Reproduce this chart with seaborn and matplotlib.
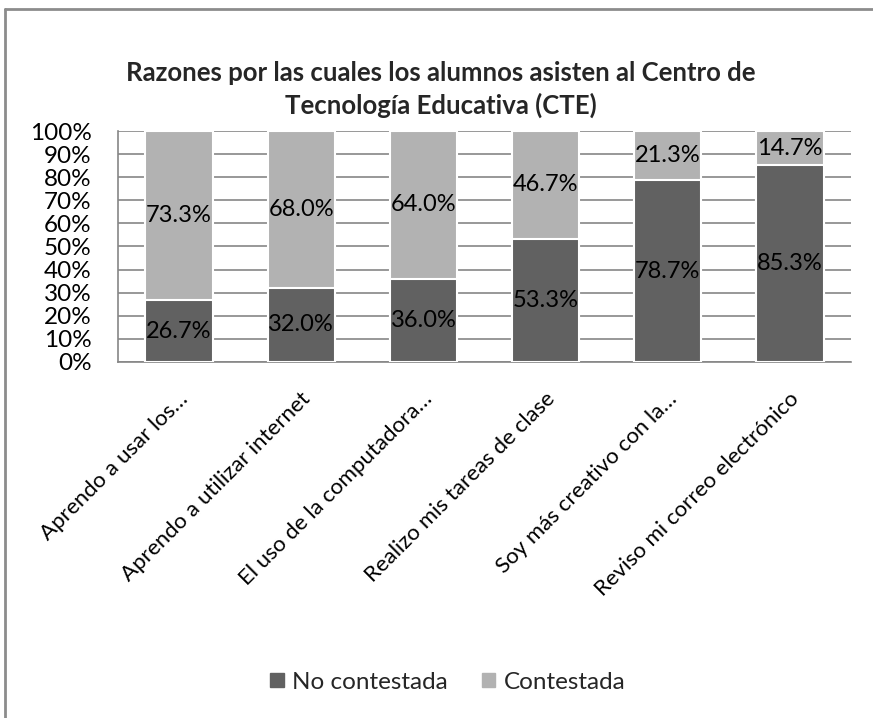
import pandas as pd
import matplotlib.pyplot as plt
import matplotlib.transforms as mtransforms
import seaborn as sns
from matplotlib.patches import Rectangle
from matplotlib.lines import Line2D

# Chart values
categorias = ['Aprendo a usar los…', 'Aprendo a utilizar internet', 'El uso de la computadora…',
              'Realizo mis tareas de clase', 'Soy más creativo con la…', 'Reviso mi correo electrónico']
no_contestada = [26.7, 32.0, 36.0, 53.3, 78.7, 85.3]
contestada = [73.3, 68.0, 64.0, 46.7, 21.3, 14.7]
y_ticks = [0, 10, 20, 30, 40, 50, 60, 70, 80, 90, 100]

color_no = '#616161'
color_si = '#B2B2B2'

sns.set_style('white')
plt.rcParams['font.family'] = ['Lato', 'DejaVu Sans']

df = pd.DataFrame({'categoria': categorias, 'no': no_contestada, 'si': contestada})
df['total'] = df['no'] + df['si']

fig = plt.figure(figsize=(8.73, 7.18), dpi=100)
ax = fig.add_axes([0.135, 0.496, 0.84, 0.3215])

# light bar for the full stack, dark bar laid over its lower part
sns.barplot(data=df, x='categoria', y='total', color=color_si, width=0.55,
            edgecolor='white', linewidth=1.5, saturation=1, ax=ax, zorder=3)
sns.barplot(data=df, x='categoria', y='no', color=color_no, width=0.55,
            edgecolor='white', linewidth=1.5, saturation=1, ax=ax, zorder=4)

for i, (n, s) in enumerate(zip(no_contestada, contestada)):
    ax.text(i, n / 2, f'{n:.1f}%', ha='center', va='center', fontsize=17, color='black', zorder=5)
    ax.text(i, n + s / 2, f'{s:.1f}%', ha='center', va='center', fontsize=17, color='black', zorder=5)

ax.set_ylim(0, 100)
ax.set_xlim(-0.5, len(categorias) - 0.5)
ax.set_yticks(y_ticks)
ax.set_yticklabels([f'{t}%' for t in y_ticks], fontsize=17.5, color='black')
ax.yaxis.grid(True, color='#868686', linewidth=1.2, zorder=0)
ax.set_axisbelow(True)
ax.tick_params(axis='y', length=0, pad=19)
ax.tick_params(axis='x', length=0, pad=0)
ax.set_xticks(range(len(categorias)))
ax.set_xticklabels(categorias, rotation=45, ha='right', va='center', rotation_mode='anchor',
                   fontsize=16, color='black')
offset = mtransforms.ScaledTranslation(6 / 100, -34 / 100, fig.dpi_scale_trans)
for lbl in ax.get_xticklabels():
    lbl.set_transform(lbl.get_transform() + offset)
ax.set_xlabel('')
ax.set_ylabel('')
for side in ['top', 'right']:
    ax.spines[side].set_visible(False)
for side in ['left', 'bottom']:
    ax.spines[side].set_color('#868686')
    ax.spines[side].set_linewidth(1.2)

fig.text(0.505, 0.875, 'Razones por las cuales los alumnos asisten al Centro de\nTecnología Educativa (CTE)',
         ha='center', va='center', fontsize=18.5, fontweight='bold', linespacing=1.35)

handles = [Rectangle((0, 0), 1, 1, color=color_no), Rectangle((0, 0), 1, 1, color=color_si)]
fig.legend(handles, ['No contestada', 'Contestada'], loc='center', bbox_to_anchor=(0.513, 0.05),
           ncol=2, frameon=False, fontsize=17.5, handlelength=0.55, handleheight=0.55,
           handletextpad=0.35, columnspacing=1.4)

# outer chart border (only left and top edges are inside the picture)
fig.lines.append(Line2D([5 / 873, 5 / 873], [0, 1 - 9 / 718], transform=fig.transFigure,
                        color='#8C8C8C', linewidth=2))
fig.lines.append(Line2D([5 / 873, 1], [1 - 9 / 718, 1 - 9 / 718], transform=fig.transFigure,
                        color='#8C8C8C', linewidth=2))

fig.savefig('out.png', dpi=100)
